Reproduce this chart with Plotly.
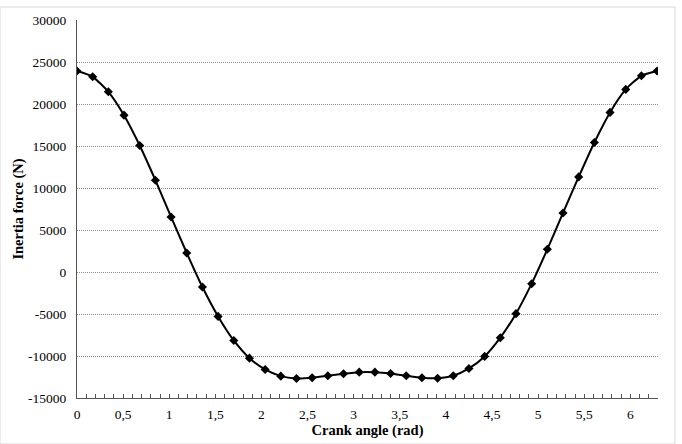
import plotly.graph_objects as go

# Crank angle (rad), step 0.17
crank_angle = [round(0.17 * k, 2) for k in range(38)]
inertia_force = [23920, 23240, 21450, 18670, 15060, 10930, 6550, 2260, -1790, -5285,
                 -8146, -10256, -11600, -12400, -12676, -12590, -12350, -12115, -11925, -11925,
                 -12080, -12350, -12590, -12640, -12350, -11480, -10050, -7820, -4960, -1390,
                 2700, 7030, 11320, 15420, 19000, 21740, 23360, 23920]

x_tick_vals = [0, 0.5, 1, 1.5, 2, 2.5, 3, 3.5, 4, 4.5, 5, 5.5, 6]
x_tick_text = ["0", "0,5", "1", "1,5", "2", "2,5", "3", "3,5", "4", "4,5", "5", "5,5", "6"]
y_tick_vals = [-15000, -10000, -5000, 0, 5000, 10000, 15000, 20000, 25000, 30000]
y_tick_text = [str(v) for v in y_tick_vals]

font_family = "'Liberation Serif', 'Times New Roman', serif"

fig = go.Figure()
fig.add_trace(go.Scatter(
    x=crank_angle, y=inertia_force, mode="lines+markers",
    line=dict(color="black", width=2, shape="spline", smoothing=0.6),
    marker=dict(symbol="diamond", size=7, color="black"),
    showlegend=False,
))

fig.update_layout(
    width=682, height=444,
    margin=dict(l=77, r=24, t=20, b=46, autoexpand=False),
    paper_bgcolor="white", plot_bgcolor="white",
    font=dict(family=font_family, size=13.5, color="black"),
    xaxis=dict(
        range=[0, 6.3], tickvals=x_tick_vals, ticktext=x_tick_text,
        automargin=False,
        showgrid=False, zeroline=False,
        showline=True, linecolor="#555555", linewidth=1,
        ticks="inside", ticklen=4, tickcolor="#555555",
        minor=dict(dtick=0.1, tick0=0, ticks="inside", ticklen=4, tickcolor="#555555", showgrid=False),
        ticklabelstandoff=4,
        tickfont=dict(family=font_family, size=13.5),
        title=dict(text="<b>Crank angle (rad)</b>", font=dict(family=font_family, size=14.5), standoff=3),
    ),
    yaxis=dict(
        range=[-15000, 30000], tickvals=y_tick_vals, ticktext=y_tick_text,
        automargin=False,
        showgrid=True, gridcolor="#8c8c8c", griddash="1px,1px", gridwidth=1,
        zeroline=False,
        showline=True, linecolor="#555555", linewidth=1,
        ticks="", ticklabelstandoff=7,
        tickfont=dict(family=font_family, size=13.5),
        title=dict(text="<b>Inertia force (N)</b>", font=dict(family=font_family, size=14.5), standoff=0),
    ),
)

fig.add_shape(type="rect", xref="paper", yref="paper",
              x0=-77/581, x1=(675-77)/581, y0=-46/378, y1=(444-7-46)/378,
              line=dict(color="#d9d9d9", width=1), layer="below")

fig.write_html("out.html")
